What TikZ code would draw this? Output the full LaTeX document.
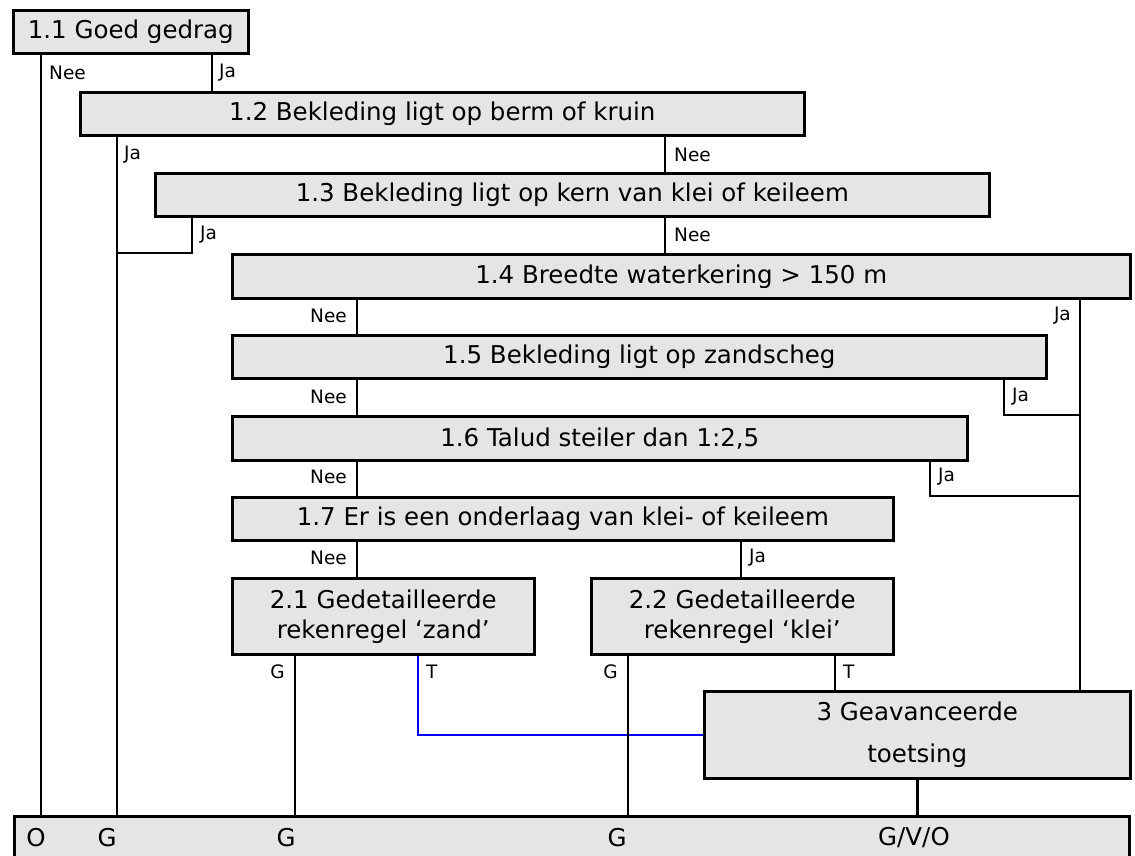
\documentclass[tikz,border=0pt]{standalone}
\usepackage{fontspec}
\setmainfont{DejaVu Sans}

\tikzset{
  box/.style={draw, line width=2.6pt, fill=black!10, anchor=north west,
    inner sep=0pt, align=center, font=\fontsize{24.5}{30}\selectfont},
  lbl/.style={inner sep=0pt, font=\fontsize{18.5}{22}\selectfont},
  wire/.style={line width=2.5pt},
  twire/.style={line width=2.3pt, blue}
}

\begin{document}
\begin{tikzpicture}[x=1pt, y=-1pt]
    \useasboundingbox (0,0) rectangle (1135,855);

    % vragen
    \node[box, minimum width=235pt, minimum height=43pt] (q11) at (12,9) {1.1 Goed gedrag};
    \node[box, minimum width=724pt, minimum height=43pt] (q12) at (79,91) {1.2 Bekleding ligt op berm of kruin};
    \node[box, minimum width=834pt, minimum height=43pt] (q13) at (154,172) {1.3 Bekleding ligt op kern van klei of keileem};
    \node[box, minimum width=898pt, minimum height=44pt] (q14) at (231,253) {1.4 Breedte waterkering > 150 m};
    \node[box, minimum width=814pt, minimum height=43pt] (q15) at (231,334) {1.5 Bekleding ligt op zandscheg};
    \node[box, minimum width=735pt, minimum height=44pt] (q16) at (231,415) {1.6 Talud steiler dan 1:2,5};
    \node[box, minimum width=661pt, minimum height=43pt] (q17) at (231,496) {1.7 Er is een onderlaag van klei- of keileem};
    \node[box, minimum width=302pt, minimum height=76pt] (q21) at (231,577) {2.1 Gedetailleerde\\rekenregel ‘zand’};
    \node[box, minimum width=302pt, minimum height=76pt] (q22) at (590,577) {2.2 Gedetailleerde\\rekenregel ‘klei’};
    \node[box, minimum width=426pt, minimum height=87pt] (q3) at (703,690) {3 Geavanceerde\\[12pt]toetsing};
    \node[box, minimum width=1115pt, minimum height=50pt] (bar) at (13,815) {};

    % uitkomsten
    \node[box, draw=none, fill=none, anchor=center] (oO) at (36,838) {O};
    \node[box, draw=none, fill=none, anchor=center] (oG1) at (107,838) {G};
    \node[box, draw=none, fill=none, anchor=center] (oG2) at (286,838) {G};
    \node[box, draw=none, fill=none, anchor=center] (oG3) at (617,838) {G};
    \node[box, draw=none, fill=none, anchor=center] (oGVO) at (914,838) {G/V/O};

    % kolommen van de lijnen
    \coordinate (nee11) at (41,0);
    \coordinate (ja11) at (212,0);
    \coordinate (ja12) at (117,0);
    \coordinate (nee12) at (665,0);
    \coordinate (ja13) at (192,0);
    \coordinate (nee14) at (357,0);
    \coordinate (ja14) at (1080,0);
    \coordinate (ja15) at (1004,0);
    \coordinate (ja16) at (930,0);
    \coordinate (ja17) at (741,0);
    \coordinate (g21) at (295,0);
    \coordinate (t21) at (418,0);
    \coordinate (g22) at (628,0);
    \coordinate (t22) at (835,0);

    \draw[twire] (t21 |- q21.south) |- (q3.west);

    \draw[wire] (nee11 |- q11.south) -- (nee11 |- bar.north);
    \draw[wire] (ja11 |- q11.south) -- (ja11 |- q12.north);
    \draw[wire] (ja12 |- q12.south) -- (ja12 |- bar.north);
    \draw[wire] (nee12 |- q12.south) -- (nee12 |- q13.north);
    \draw[wire] (ja13 |- q13.south) |- (ja12 |- q14.north);
    \draw[wire] (nee12 |- q13.south) -- (nee12 |- q14.north);
    \draw[wire] (nee14 |- q14.south) -- (nee14 |- q15.north);
    \draw[wire] (ja14 |- q14.south) -- (ja14 |- q3.north);
    \draw[wire] (nee14 |- q15.south) -- (nee14 |- q16.north);
    \draw[wire] (ja15 |- q15.south) |- (ja14 |- q16.north);
    \draw[wire] (nee14 |- q16.south) -- (nee14 |- q17.north);
    \draw[wire] (ja16 |- q16.south) |- (ja14 |- q17.north);
    \draw[wire] (nee14 |- q17.south) -- (nee14 |- q21.north);
    \draw[wire] (ja17 |- q17.south) -- (ja17 |- q22.north);
    \draw[wire] (g21 |- q21.south) -- (g21 |- bar.north);
    \draw[wire] (g22 |- q22.south) -- (g22 |- bar.north);
    \draw[wire] (t22 |- q22.south) -- (t22 |- q3.north);
    \draw[wire] (q3.south) -- (q3.south |- bar.north);

    % antwoorden
    \node[lbl, anchor=west] (a1) at (49,73) {Nee};
    \node[lbl, anchor=west] (a2) at (219,73) {Ja};
    \node[lbl, anchor=west] (a3) at (124,155) {Ja};
    \node[lbl, anchor=west] (a4) at (674,155) {Nee};
    \node[lbl, anchor=west] (a5) at (200,235) {Ja};
    \node[lbl, anchor=west] (a6) at (674,235) {Nee};
    \node[lbl, anchor=east] (a7) at (347,316) {Nee};
    \node[lbl, anchor=east] (a8) at (1071,316) {Ja};
    \node[lbl, anchor=east] (a9) at (347,397) {Nee};
    \node[lbl, anchor=west] (a10) at (1012,397) {Ja};
    \node[lbl, anchor=east] (a11) at (347,477) {Nee};
    \node[lbl, anchor=west] (a12) at (938,477) {Ja};
    \node[lbl, anchor=east] (a13) at (347,558) {Nee};
    \node[lbl, anchor=west] (a14) at (749,558) {Ja};
    \node[lbl, anchor=east] (a15) at (285,672) {G};
    \node[lbl, anchor=west] (a16) at (426,672) {T};
    \node[lbl, anchor=east] (a17) at (618,672) {G};
    \node[lbl, anchor=west] (a18) at (843,672) {T};
\end{tikzpicture}
\end{document}
